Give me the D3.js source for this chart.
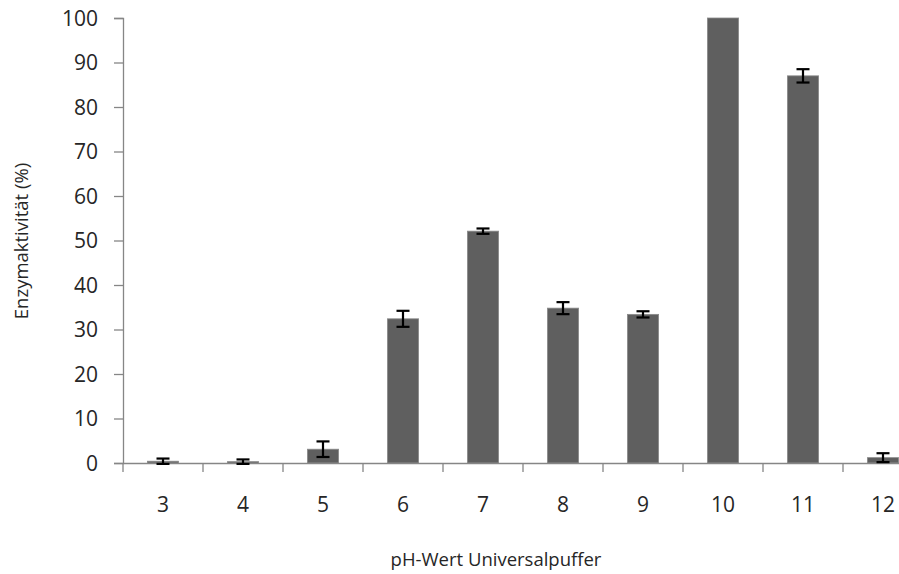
<!DOCTYPE html>
<html><head><meta charset="utf-8">
<script src="https://cdn.jsdelivr.net/npm/d3@7"></script>
<style>
body{margin:0;background:#fff;}
svg{display:block;}
text{font-family:"Open Sans",sans-serif;fill:#262626;}
</style></head>
<body><svg id="c" width="899" height="574"></svg>
<script>
const categories = ["3","4","5","6","7","8","9","10","11","12"];
const values = [0.4, 0.3, 3.1, 32.4, 52.1, 34.8, 33.4, 100, 87.0, 1.2];
const errors = [0.6, 0.5, 1.75, 1.8, 0.6, 1.35, 0.7, 0, 1.5, 1.0];
const yTicks = [0,10,20,30,40,50,60,70,80,90,100];
const xTitle = "pH-Wert Universalpuffer";
const yTitle = "Enzymaktivität (%)";

const svg = d3.select("#c");
const mLeft = 123, mRight = 923, mTop = 18, mBottom = 463;
const axisColor = "#868686";

const x = d3.scaleBand().domain(categories).range([mLeft, mRight]).padding(0);
const y = d3.scaleLinear().domain([0,100]).range([mBottom, mTop]);

// y axis
const yAxis = svg.append("g").attr("transform", `translate(${mLeft},0)`)
  .call(d3.axisLeft(y).tickValues(yTicks).tickSize(9).tickPadding(16));
yAxis.select(".domain").attr("stroke", axisColor).attr("stroke-width", 1.3);
yAxis.selectAll(".tick line").attr("stroke", axisColor).attr("stroke-width", 1.3);
yAxis.selectAll(".tick text").style("font-size","21px").attr("fill","#262626").attr("dy","0.34em");

// bars
const bw = x.bandwidth()*0.39;
svg.append("g").selectAll("rect").data(categories).join("rect")
  .attr("x", (d)=> x(d) + x.bandwidth()/2 - bw/2)
  .attr("y", (d,i)=> y(values[i]))
  .attr("width", bw)
  .attr("height", (d,i)=> y(0)-y(values[i]))
  .attr("fill", "#5f5f5f")
  .attr("stroke", "#8a8a8a").attr("stroke-width", 0.8);

// x axis
const xAxis = svg.append("g").attr("transform", `translate(0,${mBottom})`)
  .call(d3.axisBottom(x).tickSize(0).tickPadding(34));
xAxis.select(".domain").attr("stroke", axisColor).attr("stroke-width", 1.3);
xAxis.selectAll(".tick text").style("font-size","21px").attr("fill","#262626");
// boundary ticks
const bounds = categories.map(c => x(c)).concat([x(categories[categories.length-1]) + x.bandwidth()]);
svg.append("g").selectAll("line").data(bounds).join("line")
  .attr("x1", d=>d).attr("x2", d=>d).attr("y1", mBottom).attr("y2", mBottom+9)
  .attr("stroke", axisColor).attr("stroke-width", 1.3);

// error bars
const eg = svg.append("g").attr("stroke", "#000").attr("stroke-width", 2.2);
categories.forEach((c,i) => {
  if (!errors[i]) return;
  const cx = x(c) + x.bandwidth()/2;
  const y1 = y(values[i]+errors[i]), y2 = y(values[i]-errors[i]);
  eg.append("line").attr("x1",cx).attr("x2",cx).attr("y1",y1).attr("y2",y2);
  eg.append("line").attr("x1",cx-6.5).attr("x2",cx+6.5).attr("y1",y1).attr("y2",y1);
  eg.append("line").attr("x1",cx-6.5).attr("x2",cx+6.5).attr("y1",y2).attr("y2",y2);
});

// titles
svg.append("text").attr("x", 496).attr("y", 566).attr("text-anchor","middle")
  .style("font-size","18.5px").text(xTitle);
svg.append("text").attr("transform", "translate(28,241) rotate(-90)").attr("text-anchor","middle")
  .style("font-size","18.5px").text(yTitle);
</script></body></html>
